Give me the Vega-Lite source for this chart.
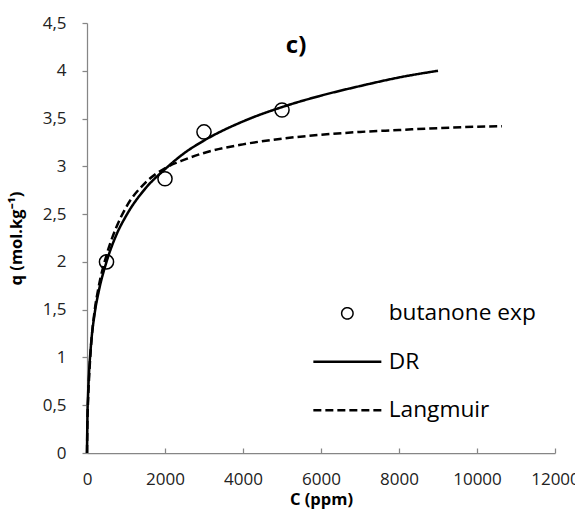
{
  "$schema": "https://vega.github.io/schema/vega-lite/v6.json",
  "width": 468,
  "height": 430,
  "autosize": {"type": "none"},
  "padding": {"left": 87, "top": 23, "right": 20, "bottom": 65},
  "background": "white",
  "config": {
    "view": {"stroke": null},
    "axis": {"domainColor": "#868686", "domainWidth": 1.25, "tickColor": "#868686", "tickWidth": 1.25, "grid": false, "labelFont": "Open Sans", "labelFontSize": 17, "labelColor": "#222", "titleFont": "Open Sans", "titleFontSize": 16.5, "titleFontWeight": "bold", "titleColor": "black", "labelFlush": false}
  },
  "datasets": {
    "curves": [
      {"C": 0, "q": 0, "model": "DR"},
      {"C": 10, "q": 0.36, "model": "DR"},
      {"C": 25, "q": 0.58, "model": "DR"},
      {"C": 50, "q": 0.82, "model": "DR"},
      {"C": 100, "q": 1.12, "model": "DR"},
      {"C": 200, "q": 1.47, "model": "DR"},
      {"C": 300, "q": 1.69, "model": "DR"},
      {"C": 500, "q": 2.0, "model": "DR"},
      {"C": 750, "q": 2.28, "model": "DR"},
      {"C": 1000, "q": 2.48, "model": "DR"},
      {"C": 1500, "q": 2.77, "model": "DR"},
      {"C": 2000, "q": 2.97, "model": "DR"},
      {"C": 2500, "q": 3.14, "model": "DR"},
      {"C": 3000, "q": 3.27, "model": "DR"},
      {"C": 4000, "q": 3.47, "model": "DR"},
      {"C": 5000, "q": 3.62, "model": "DR"},
      {"C": 6000, "q": 3.74, "model": "DR"},
      {"C": 7000, "q": 3.84, "model": "DR"},
      {"C": 8000, "q": 3.93, "model": "DR"},
      {"C": 9000, "q": 4.0, "model": "DR"},
      {"C": 0, "q": 0, "model": "Langmuir"},
      {"C": 10, "q": 0.3, "model": "Langmuir"},
      {"C": 25, "q": 0.52, "model": "Langmuir"},
      {"C": 50, "q": 0.76, "model": "Langmuir"},
      {"C": 100, "q": 1.1, "model": "Langmuir"},
      {"C": 200, "q": 1.5, "model": "Langmuir"},
      {"C": 300, "q": 1.74, "model": "Langmuir"},
      {"C": 500, "q": 2.07, "model": "Langmuir"},
      {"C": 750, "q": 2.36, "model": "Langmuir"},
      {"C": 1000, "q": 2.57, "model": "Langmuir"},
      {"C": 1500, "q": 2.83, "model": "Langmuir"},
      {"C": 2000, "q": 2.98, "model": "Langmuir"},
      {"C": 2500, "q": 3.07, "model": "Langmuir"},
      {"C": 3000, "q": 3.14, "model": "Langmuir"},
      {"C": 4000, "q": 3.23, "model": "Langmuir"},
      {"C": 5000, "q": 3.29, "model": "Langmuir"},
      {"C": 6000, "q": 3.33, "model": "Langmuir"},
      {"C": 7000, "q": 3.36, "model": "Langmuir"},
      {"C": 8000, "q": 3.38, "model": "Langmuir"},
      {"C": 9000, "q": 3.40, "model": "Langmuir"},
      {"C": 10000, "q": 3.415, "model": "Langmuir"},
      {"C": 10640, "q": 3.42, "model": "Langmuir"}
    ],
    "exp": [
      {"C": 500, "q": 2.0},
      {"C": 2000, "q": 2.87},
      {"C": 3000, "q": 3.36},
      {"C": 5000, "q": 3.59}
    ],
    "panel": [
      {"label": "c)"}
    ]
  },
  "layer": [
    {
      "data": {"name": "curves"},
      "mark": {"type": "line", "color": "black", "strokeWidth": 2.5, "interpolate": "monotone", "strokeCap": "butt"},
      "encoding": {
        "x": {"field": "C", "type": "quantitative", "scale": {"domain": [0, 12000]}, "axis": {"title": "C (ppm)", "values": [0, 2000, 4000, 6000, 8000, 10000, 12000], "format": "d", "tickSize": -5, "labelPadding": 23, "titlePadding": 4}},
        "y": {"field": "q", "type": "quantitative", "scale": {"domain": [0, 4.5]}, "axis": {"title": "q (mol.kg⁻¹)", "values": [0, 0.5, 1, 1.5, 2, 2.5, 3, 3.5, 4, 4.5], "format": ".1~f", "labelExpr": "replace(datum.label, '.', ',')", "tickSize": 5, "labelPadding": 16, "titlePadding": 18}},
        "strokeDash": {
          "field": "model", "type": "nominal",
          "scale": {"domain": ["butanone exp", "DR", "Langmuir"], "range": [[1, 0], [1, 0], [8, 4]]},
          "legend": {
            "title": null, "orient": "none", "legendX": 249, "legendY": 279, "padding": 0,
            "labelFont": "Open Sans", "labelFontSize": 22.7, "labelColor": "black", "labelOffset": 30,
            "symbolType": "stroke", "symbolSize": 4624, "symbolStrokeWidth": 2.5, "symbolStrokeColor": "black", "symbolFillColor": "transparent",
            "rowPadding": 24.5,
            "encode": {"symbols": {"update": {
              "shape": {"signal": "datum.value === 'butanone exp' ? 'circle' : 'stroke'"},
              "size": {"signal": "datum.value === 'butanone exp' ? 130 : 4624"},
              "strokeWidth": {"signal": "datum.value === 'butanone exp' ? 1.5 : 2.5"},
              "fill": {"value": "transparent"},
              "stroke": {"value": "black"}
            }}}
          }
        }
      }
    },
    {
      "data": {"name": "exp"},
      "mark": {"type": "point", "shape": "circle", "filled": false, "color": "black", "strokeWidth": 1.5, "size": 200, "opacity": 1},
      "encoding": {
        "x": {"field": "C", "type": "quantitative"},
        "y": {"field": "q", "type": "quantitative"}
      }
    },
    {
      "data": {"name": "panel"},
      "mark": {"type": "text", "font": "Open Sans", "fontSize": 24, "fontWeight": "bold", "color": "black", "align": "center", "baseline": "alphabetic"},
      "encoding": {
        "x": {"datum": 5360, "type": "quantitative"},
        "y": {"datum": 4.19, "type": "quantitative"},
        "text": {"field": "label", "type": "nominal"}
      }
    }
  ]
}
